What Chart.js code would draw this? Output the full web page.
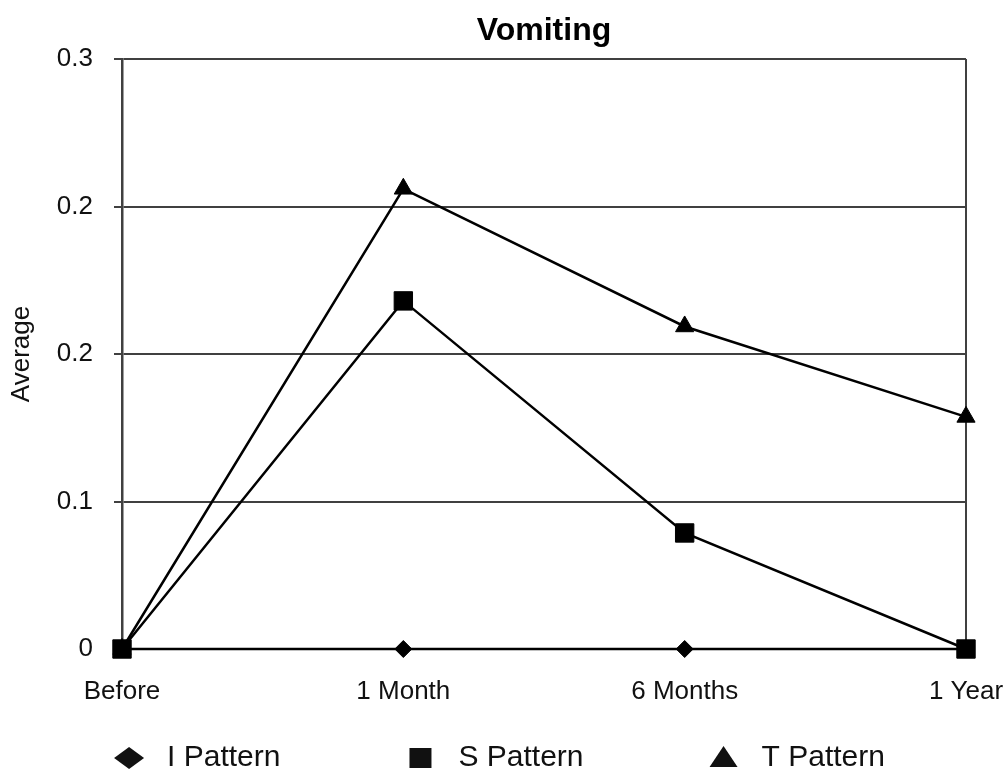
<!DOCTYPE html>
<html>
<head>
<meta charset="utf-8">
<script src="https://cdn.jsdelivr.net/npm/chart.js@4/dist/chart.umd.min.js"></script>
<style>
  html, body { margin: 0; padding: 0; background: #ffffff; }
  #wrap { width: 1007px; height: 771px; position: relative; }
</style>
</head>
<body>
<div id="wrap"><canvas id="c"></canvas></div>
<script>
// ---- data ----
const categories = ['Before', '1 Month', '6 Months', '1 Year'];
const iPattern = [0, 0, 0, 0];
const sPattern = [0, 0.177, 0.059, 0];
const tPattern = [0, 0.234, 0.164, 0.118];
const seriesNames = ['I Pattern', 'S Pattern', 'T Pattern'];
const tickValues = [0, 0.075, 0.15, 0.225, 0.3];
const tickLabels = ['0', '0.1', '0.2', '0.2', '0.3'];
const chartTitle = 'Vomiting';
const yTitle = 'Average';

const FONT = '"Liberation Sans", Arial, Helvetica, sans-serif';
const GRID = '#404040';

// custom bottom legend (wide item spacing like the reference)
const bottomLegend = {
  id: 'bottomLegend',
  afterDraw(chart) {
    const ctx = chart.ctx;
    ctx.save();
    ctx.font = '30px ' + FONT;
    ctx.fillStyle = '#111';
    ctx.textBaseline = 'middle';
    ctx.textAlign = 'left';
    const markerBox = 30, gapText = 23, itemGap = 125;
    const items = chart.data.datasets.map(ds => ({
      text: ds.label, style: ds.pointStyle, w: ctx.measureText(ds.label).width
    }));
    const total = items.reduce((s, it) => s + markerBox + gapText + it.w, 0) + itemGap * (items.length - 1);
    let x = chart.width / 2 - 4 - total / 2;
    const y = 758;
    items.forEach(it => {
      const cx = x + markerBox / 2;
      ctx.beginPath();
      if (it.style === 'rectRot') {
        ctx.moveTo(cx, y - 11);
        ctx.lineTo(cx + 15, y);
        ctx.lineTo(cx, y + 11);
        ctx.lineTo(cx - 15, y);
      } else if (it.style === 'rect') {
        ctx.rect(cx - 11, y - 10, 22, 20);
      } else {
        ctx.moveTo(cx, y - 12);
        ctx.lineTo(cx + 14, y + 9);
        ctx.lineTo(cx - 14, y + 9);
      }
      ctx.closePath();
      ctx.fill();
      ctx.fillText(it.text, x + markerBox + gapText, y);
      x += markerBox + gapText + it.w + itemGap;
    });
    ctx.restore();
  }
};

const lastIdx = categories.length - 1;

new Chart(document.getElementById('c'), {
  type: 'line',
  data: {
    labels: categories,
    datasets: [
      { label: seriesNames[0], data: iPattern, pointStyle: 'rectRot', pointRadius: 8.5 },
      { label: seriesNames[1], data: sPattern, pointStyle: 'rect', pointRadius: 13 },
      { label: seriesNames[2], data: tPattern, pointStyle: 'triangle', pointRadius: 10.5 }
    ].map(d => Object.assign({
      borderColor: '#000',
      backgroundColor: '#000',
      pointBackgroundColor: '#000',
      pointBorderColor: '#000',
      pointBorderWidth: 1,
      pointHoverRadius: d.pointRadius,
      borderWidth: 2.5,
      tension: 0,
      fill: false,
      clip: false
    }, d))
  },
  options: {
    responsive: true,
    maintainAspectRatio: false,
    animation: false,
    devicePixelRatio: 1,
    layout: { padding: { left: 0, right: 41, top: 0, bottom: 60 } },
    plugins: {
      legend: { display: false },
      tooltip: { enabled: false },
      title: {
        display: true,
        fullSize: false,
        text: chartTitle,
        color: '#000',
        font: { family: FONT, size: 32, weight: 'bold' },
        padding: { top: 12, bottom: 8.6 }
      }
    },
    scales: {
      x: {
        type: 'category',
        offset: false,
        border: { display: false },
        grid: {
          drawTicks: true,
          tickLength: 24,
          tickColor: 'rgba(0,0,0,0)',
          lineWidth: 2,
          color: c => (c.index === lastIdx ? GRID : 'rgba(0,0,0,0)')
        },
        ticks: {
          color: '#111',
          padding: 3,
          maxRotation: 0,
          autoSkip: false,
          font: { family: FONT, size: 26 }
        },
        afterFit: s => { s.height = 62; }
      },
      y: {
        min: 0,
        max: 0.3,
        border: { display: true, color: GRID, width: 2.5 },
        grid: {
          color: GRID,
          lineWidth: 2,
          drawTicks: true,
          tickLength: 8,
          tickColor: GRID,
          tickWidth: 2
        },
        afterBuildTicks: s => { s.ticks = tickValues.map(v => ({ value: v })); },
        ticks: {
          color: '#111',
          padding: 21,
          font: { family: FONT, size: 26 },
          callback: (v, i) => tickLabels[i]
        },
        title: {
          display: true,
          text: yTitle,
          color: '#111',
          font: { family: FONT, size: 26 },
          padding: { top: 6, bottom: 0 }
        },
        afterFit: s => { s.width = 122; }
      }
    }
  },
  plugins: [bottomLegend]
});
</script>
</body>
</html>
